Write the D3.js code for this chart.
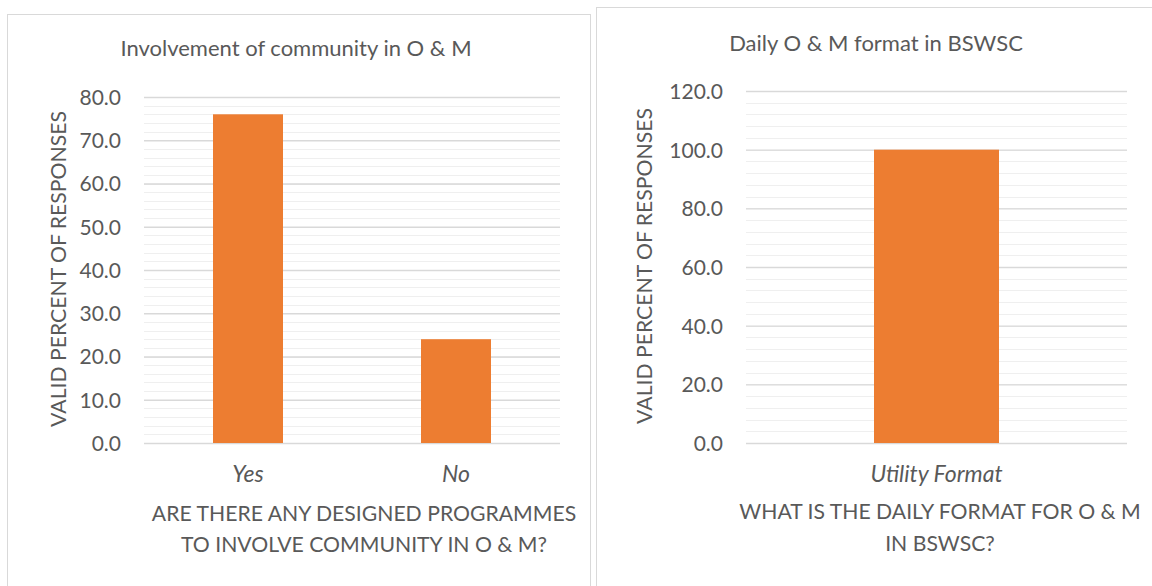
<!DOCTYPE html>
<html><head><meta charset="utf-8">
<script src="https://cdn.jsdelivr.net/npm/d3@7"></script>
<style>
body{margin:0;background:#fff;}
text{font-family:Lato,"Open Sans",sans-serif;fill:#595959;}
</style></head>
<body><svg id="c" width="1152" height="586"></svg>
<script>
// Data
const leftCategories = ["Yes", "No"];
const leftValues = [76.0, 24.0];
const leftTicks = [0, 10, 20, 30, 40, 50, 60, 70, 80];
const rightCategories = ["Utility Format"];
const rightValues = [100.0];
const rightTicks = [0, 20, 40, 60, 80, 100, 120];

const svg = d3.select("#c");
const fmt = d3.format(".1f");

function drawChart(o) {
  const g = svg.append("g");
  g.append("rect").attr("x", o.box[0]).attr("y", o.box[1]).attr("width", o.box[2]).attr("height", o.box[3])
    .attr("fill", "#fff").attr("stroke", "#d9d9d9").attr("stroke-width", 1);
  const y = d3.scaleLinear().domain([0, o.max]).range([o.bottom, o.top]);
  const x = d3.scaleBand().domain(o.cats).range([o.left, o.right]).paddingInner(0).paddingOuter(0);
  // minor gridlines
  const minor = d3.range(0, o.max + 1e-9, o.minorStep);
  g.append("g").selectAll("line").data(minor).join("line")
    .attr("x1", o.left).attr("x2", o.right)
    .attr("y1", d => Math.round(y(d)) + 0.5).attr("y2", d => Math.round(y(d)) + 0.5)
    .attr("stroke", "#efefef").attr("stroke-width", 1);
  // major gridlines
  const ax = d3.axisLeft(y).tickValues(o.ticks).tickFormat(fmt).tickSize(-(o.right - o.left)).tickPadding(o.left - o.labelRight);
  const ag = g.append("g").attr("transform", `translate(${o.left},0)`).call(ax);
  ag.select(".domain").remove();
  ag.selectAll(".tick line").attr("stroke", "#d9d9d9").attr("stroke-width", 1.3);
  ag.selectAll(".tick text").style("font-size", "21px").attr("fill", "#595959").attr("dy", "0.35em");
  // bars
  const bw = x.bandwidth() * o.barFrac;
  g.append("g").selectAll("rect").data(o.vals).join("rect")
    .attr("x", (d, i) => x(o.cats[i]) + (x.bandwidth() - bw) / 2)
    .attr("width", bw)
    .attr("y", d => y(d)).attr("height", d => y(0) - y(d))
    .attr("fill", "#ed7d31");
  // category labels
  g.append("g").selectAll("text").data(o.cats).join("text")
    .attr("x", d => x(d) + x.bandwidth() / 2).attr("y", o.catY)
    .attr("text-anchor", "middle").attr("dominant-baseline", "central")
    .style("font-size", "23px").style("font-style", "italic").text(d => d);
  // title
  g.append("text").attr("x", o.titleX).attr("y", o.titleY).attr("text-anchor", "middle")
    .attr("dominant-baseline", "central").style("font-size", "22px").text(o.title);
  // y title
  g.append("text").attr("transform", `translate(${o.yTitleX},${o.yTitleY}) rotate(-90)`)
    .attr("text-anchor", "middle").attr("dominant-baseline", "central")
    .style("font-size", "21.2px").text("VALID PERCENT OF RESPONSES");
  // x title
  o.xTitle.forEach((t, i) => {
    g.append("text").attr("x", o.xTitleX).attr("y", o.xTitleY[i]).attr("text-anchor", "middle")
      .attr("dominant-baseline", "central").style("font-size", "21.2px").text(t);
  });
}

drawChart({
  box: [7.5, 14.5, 583, 600], left: 144, right: 560, top: 97, bottom: 443, max: 80,
  ticks: leftTicks, minorStep: 2, labelRight: 121, cats: leftCategories, vals: leftValues,
  barFrac: 70 / 208, catY: 473, title: "Involvement of community in O & M", titleX: 296, titleY: 47,
  yTitleX: 58, yTitleY: 269, xTitle: ["ARE THERE ANY DESIGNED PROGRAMMES", "TO INVOLVE COMMUNITY IN O & M?"],
  xTitleX: 364, xTitleY: [513, 544]
});
drawChart({
  box: [596.5, 7.5, 600, 600], left: 746, right: 1127, top: 91, bottom: 443, max: 120,
  ticks: rightTicks, minorStep: 4, labelRight: 723, cats: rightCategories, vals: rightValues,
  barFrac: 125 / 381, catY: 473, title: "Daily O & M format in BSWSC", titleX: 876, titleY: 42,
  yTitleX: 644, yTitleY: 266, xTitle: ["WHAT IS THE DAILY FORMAT FOR O & M", "IN BSWSC?"],
  xTitleX: 940, xTitleY: [511, 543]
});
</script></body></html>
